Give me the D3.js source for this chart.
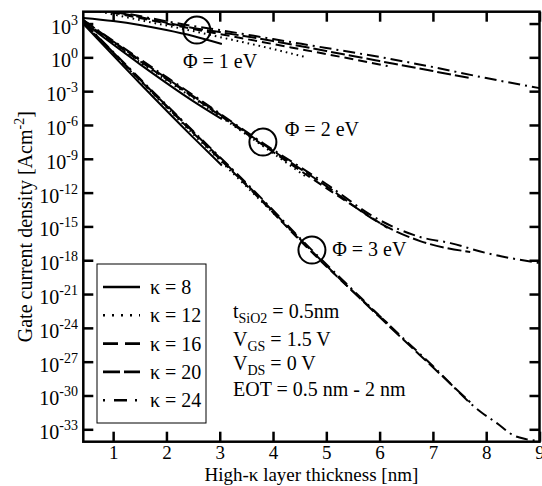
<!DOCTYPE html>
<html><head><meta charset="utf-8">
<script src="https://cdn.jsdelivr.net/npm/d3@7"></script>
<style>body{margin:0;background:#fff}svg{display:block}</style>
</head><body><svg id="c" width="542" height="486"></svg>
<script>
// ---------- data ----------
const xTicks = [1, 2, 3, 4, 5, 6, 7, 8, 9];
const yTickExps = [3, 0, -3, -6, -9, -12, -15, -18, -21, -24, -27, -30, -33];
const kappas = [8, 12, 16, 20, 24];
const legendLabels = ["κ = 8", "κ = 12", "κ = 16", "κ = 20", "κ = 24"];

// Φ = 1 eV  (x in nm, log10 of J in A/cm²)
const phi1_k8_x  = [0.44, 1.0, 1.5, 2.0, 2.5, 3.04];
const phi1_k8_y  = [3.49, 3.22, 2.87, 2.42, 1.89, 1.18];
const phi1_k12_x = [0.44, 1.5, 2.5, 3.0, 4.0, 4.6];
const phi1_k12_y = [4.37, 3.31, 2.33, 1.80, 0.74, 0.03];
const phi1_k16_x = [0.44, 1.5, 2.5, 3.0, 4.0, 5.0, 6.15];
const phi1_k16_y = [4.46, 3.49, 2.51, 2.07, 1.18, 0.29, -0.77];
const phi1_k20_x = [0.44, 1.5, 2.5, 3.0, 4.0, 5.0, 6.0, 7.0, 7.7];
const phi1_k20_y = [4.55, 3.58, 2.60, 2.24, 1.45, 0.56, -0.33, -1.22, -1.84];
const phi1_k24_x = [0.44, 1.5, 2.5, 3.0, 4.0, 5.0, 6.0, 7.0, 8.0, 9.0];
const phi1_k24_y = [4.64, 3.66, 2.78, 2.42, 1.62, 0.83, 0.03, -0.86, -1.84, -2.73];

// Φ = 2 eV
const phi2_k8_x  = [0.44, 1.5, 2.5, 3.04];
const phi2_k8_y  = [3.13, -0.60, -3.88, -5.48];
const phi2_k12_x = [0.44, 1.5, 2.5, 3.81, 4.6];
const phi2_k12_y = [3.22, -0.42, -3.61, -7.87, -10.53];
const phi2_k16_x = [0.44, 1.5, 2.5, 3.81, 5.0, 6.15];
const phi2_k16_y = [3.22, -0.33, -3.52, -7.78, -11.60, -15.14];
const phi2_k20_x = [0.44, 1.5, 2.5, 3.81, 5.0, 6.0, 6.76, 7.7];
const phi2_k20_y = [3.31, -0.24, -3.43, -7.69, -11.42, -14.70, -16.30, -17.27];
const phi2_k24_x = [0.44, 1.5, 2.5, 3.81, 5.0, 6.0, 6.76, 7.33, 8.0, 9.0];
const phi2_k24_y = [3.31, -0.15, -3.34, -7.60, -11.24, -14.44, -15.94, -16.48, -17.36, -18.25];

// Φ = 3 eV
const phi3_k8_x  = [0.44, 1.5, 2.5, 3.04];
const phi3_k8_y  = [2.96, -2.30, -7.10, -9.60];
const phi3_k12_x = [0.44, 1.5, 2.5, 3.5, 4.6];
const phi3_k12_y = [3.05, -2.05, -6.80, -11.45, -16.60];
const phi3_k16_x = [0.44, 1.5, 2.5, 3.5, 4.73, 6.15];
const phi3_k16_y = [3.05, -2.00, -6.70, -11.35, -17.30, -23.60];
const phi3_k20_x = [0.44, 1.5, 2.5, 3.5, 4.73, 6.0, 7.0, 7.7];
const phi3_k20_y = [3.14, -1.95, -6.60, -11.25, -17.20, -23.05, -27.50, -30.60];
const phi3_k24_x = [0.44, 1.5, 2.5, 3.5, 4.73, 5.5, 6.0, 7.0, 7.9, 8.2, 8.5, 8.75, 9.0];
const phi3_k24_y = [3.14, -1.88, -6.54, -11.15, -17.10, -20.65, -22.95, -27.39, -31.47, -32.45, -33.51, -33.87, -34.05];

// circle markers and Φ labels (data coordinates)
const circleX = [2.57, 3.81, 4.73];
const circleY = [2.42, -7.52, -17.10];
const phiLabels = ["Φ = 1 eV", "Φ = 2 eV", "Φ = 3 eV"];
const phiLabelX = [2.31, 4.22, 5.11];
const phiLabelY = [-0.95, -6.98, -17.63];

// ---------- layout ----------
const L = 83.3, R = 539.5, T = 11.7, B = 441.7;
const FONT = "'Liberation Serif','Times New Roman',serif";
const svg = d3.select("#c");
const x = d3.scaleLinear().domain([0.44, 9]).range([L, R]);
const y = d3.scaleLog().domain([Math.pow(10, -34.1), Math.pow(10, 4.05)]).range([B, T]);

const series = [
  [phi1_k8_x, phi1_k8_y, 8], [phi1_k12_x, phi1_k12_y, 12], [phi1_k16_x, phi1_k16_y, 16], [phi1_k20_x, phi1_k20_y, 20], [phi1_k24_x, phi1_k24_y, 24],
  [phi2_k8_x, phi2_k8_y, 8], [phi2_k12_x, phi2_k12_y, 12], [phi2_k16_x, phi2_k16_y, 16], [phi2_k20_x, phi2_k20_y, 20], [phi2_k24_x, phi2_k24_y, 24],
  [phi3_k8_x, phi3_k8_y, 8], [phi3_k12_x, phi3_k12_y, 12], [phi3_k16_x, phi3_k16_y, 16], [phi3_k20_x, phi3_k20_y, 20], [phi3_k24_x, phi3_k24_y, 24]
];
const dashes = {8: null, 12: "1.6,4", 16: "9,5", 20: "14,4", 24: "12,5,2,5"};
const legendDashes = {8: null, 12: "2,7", 16: "15,7", 20: "17,4", 24: "2,9,13,8"};

svg.append("defs").append("clipPath").attr("id", "clip")
  .append("rect").attr("x", L).attr("y", T).attr("width", R - L).attr("height", B - T);

const line = d3.line().x(d => x(d[0])).y(d => y(Math.pow(10, d[1]))).curve(d3.curveMonotoneX);
const gCurves = svg.append("g").attr("clip-path", "url(#clip)");
series.forEach(([xs, ys, k]) => {
  gCurves.append("path")
    .datum(xs.map((v, i) => [v, ys[i]]))
    .attr("d", line)
    .attr("fill", "none").attr("stroke", "#000").attr("stroke-width", 2)
    .attr("stroke-dasharray", dashes[k]);
});

// circles
circleX.forEach((cx, i) => {
  svg.append("circle").attr("cx", x(cx)).attr("cy", y(Math.pow(10, circleY[i])))
    .attr("r", 13.5).attr("fill", "none").attr("stroke", "#000").attr("stroke-width", 2);
});
phiLabels.forEach((t, i) => {
  svg.append("text").attr("x", x(phiLabelX[i])).attr("y", y(Math.pow(10, phiLabelY[i])))
    .attr("font-family", FONT).attr("font-size", 20).text(t);
});

// axes
const yTickVals = yTickExps.map(e => Math.pow(10, e));
function styleAxis(g) {
  g.select(".domain").remove();
  g.selectAll(".tick line").attr("stroke", "#000").attr("stroke-width", 2.5);
}
svg.append("g").attr("transform", `translate(0,${B})`)
  .call(d3.axisBottom(x).tickValues(xTicks).tickSize(-10).tickPadding(4).tickFormat(d3.format("d")))
  .call(styleAxis)
  .call(g => g.selectAll("text").attr("font-family", FONT).attr("font-size", 19).attr("fill", "#000"));
svg.append("g").attr("transform", `translate(0,${T})`)
  .call(d3.axisTop(x).tickValues(xTicks).tickSize(-10).tickFormat(""))
  .call(styleAxis);
svg.append("g").attr("transform", `translate(${L},0)`)
  .call(d3.axisLeft(y).tickValues(yTickVals).tickSize(-10).tickFormat(""))
  .call(styleAxis);
svg.append("g").attr("transform", `translate(${R},0)`)
  .call(d3.axisRight(y).tickValues(yTickVals).tickSize(-10).tickFormat(""))
  .call(styleAxis);

// y tick labels 10^n
yTickExps.forEach(e => {
  const t = svg.append("text").attr("x", 78).attr("y", y(Math.pow(10, e)) + 10)
    .attr("text-anchor", "end").attr("font-family", FONT).attr("font-size", 20);
  t.append("tspan").text("10");
  t.append("tspan").attr("dy", -9).attr("font-size", 14).text(String(e));
});

// frame
svg.append("rect").attr("x", L).attr("y", T).attr("width", R - L).attr("height", B - T)
  .attr("fill", "none").attr("stroke", "#000").attr("stroke-width", 2.5);

// axis titles
svg.append("text").attr("x", (L + R) / 2).attr("y", 481).attr("text-anchor", "middle")
  .attr("font-family", FONT).attr("font-size", 19).text("High-κ layer thickness [nm]");
const yt = svg.append("text").attr("transform", `translate(32,${(T + B) / 2}) rotate(-90)`)
  .attr("text-anchor", "middle").attr("font-family", FONT).attr("font-size", 20);
yt.append("tspan").text("Gate current density [Acm");
yt.append("tspan").attr("dy", -8).attr("font-size", 14).text("-2");
yt.append("tspan").attr("dy", 8).text("]");

// legend
svg.append("rect").attr("x", 97).attr("y", 264).attr("width", 109).attr("height", 159)
  .attr("fill", "#fff").attr("stroke", "#000").attr("stroke-width", 1);
kappas.forEach((k, i) => {
  const ly = 287 + i * 28.3;
  svg.append("line").attr("x1", 103).attr("x2", 140).attr("y1", ly).attr("y2", ly)
    .attr("stroke", "#000").attr("stroke-width", 2.6).attr("stroke-dasharray", legendDashes[k]);
  svg.append("text").attr("x", 150).attr("y", ly + 7).attr("font-family", FONT).attr("font-size", 20)
    .text(legendLabels[i]);
});

// parameter annotations
function annot(yb, parts) {
  const t = svg.append("text").attr("x", 233).attr("y", yb).attr("font-family", FONT).attr("font-size", 20);
  parts.forEach(([s, sub]) => {
    const ts = t.append("tspan").text(s);
    if (sub === 1) ts.attr("font-size", 14).attr("dy", 5);
    if (sub === -1) ts.attr("dy", -5);
  });
}
annot(318, [["t", 0], ["SiO2", 1], [" = 0.5nm", -1]]);
annot(346, [["V", 0], ["GS", 1], [" = 1.5 V", -1]]);
annot(370, [["V", 0], ["DS", 1], [" = 0 V", -1]]);
annot(396, [["EOT = 0.5 nm - 2 nm", 0]]);
</script>
</body></html>
